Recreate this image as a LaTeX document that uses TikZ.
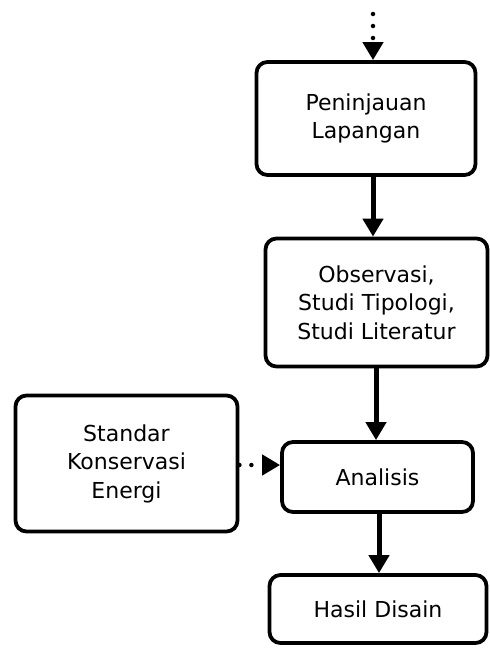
\documentclass[tikz,border=0pt]{standalone}
\usepackage{fontspec}
\setmainfont{DejaVu Sans}
\usetikzlibrary{arrows.meta}
\begin{document}
\begin{tikzpicture}[x=1pt, y=-1pt, >={Triangle[width=20pt,length=18pt]},
  box/.style={draw, rectangle, rounded corners=11pt, line width=3.8pt, align=center,
    inner sep=0pt, font=\fontsize{22}{28.5}\selectfont},
  flow/.style={->, line width=5pt},
  dots/.style={->, line width=4.5pt, line cap=round, dash pattern=on 0pt off 12pt}]
\useasboundingbox (0,0) rectangle (490,648);

\node[box, minimum width=219pt, minimum height=113pt] (a) at (366,118.5) {Peninjauan\\Lapangan};
\node[box, minimum width=222pt, minimum height=128pt] (b) at (376.5,302.5) {Observasi,\\Studi Tipologi,\\Studi Literatur};
\node[box, minimum width=191pt, minimum height=70pt] (c) at (377.5,477) {Analisis};
\node[box, minimum width=222pt, minimum height=136pt] (d) at (126.5,463.5) {Standar\\Konservasi\\Energi};
\node[box, minimum width=217pt, minimum height=68pt] (e) at (378,609) {Hasil Disain};
\coordinate (top) at (373,14);

\draw[dots] (top) -- (top |- a.north);
\draw[flow] (a.south -| 373,0) -- (b.north -| 373,0);
\draw[flow] (b.south -| 376,0) -- (c.north -| 376,0);
\draw[flow] (c.south -| 379,0) -- (e.north -| 379,0);
\draw[dots] (d.east |- 0,465) -- (c.west |- 0,465);
\end{tikzpicture}
\end{document}
